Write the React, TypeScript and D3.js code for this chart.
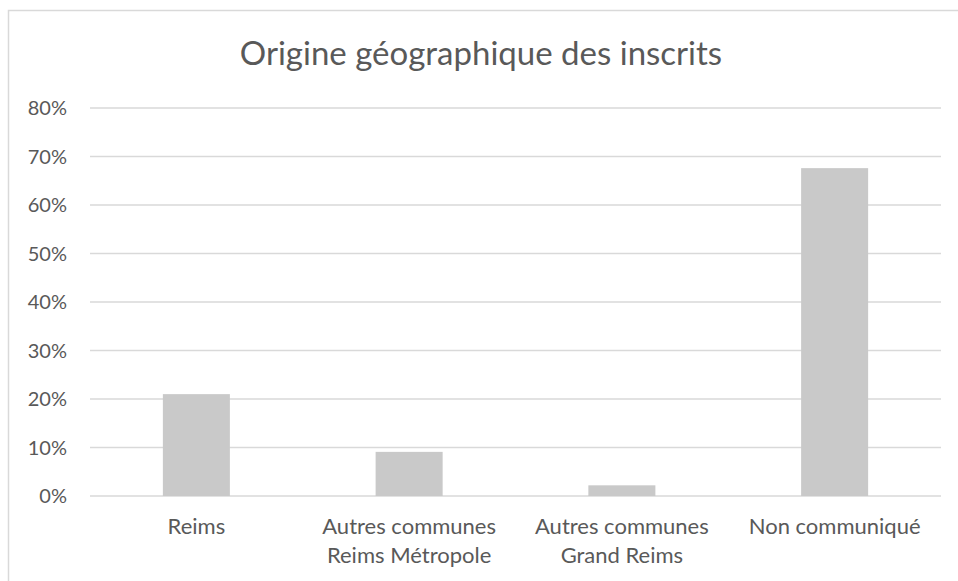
import { useEffect, useRef } from 'react';
import * as d3 from 'd3';

const categories = [
  ['Reims'],
  ['Autres communes', 'Reims Métropole'],
  ['Autres communes', 'Grand Reims'],
  ['Non communiqué'],
];
const values = [0.21, 0.091, 0.022, 0.676];
const ticks = [0, 0.1, 0.2, 0.3, 0.4, 0.5, 0.6, 0.7, 0.8];
const title = 'Origine géographique des inscrits';

const W = 958;
const H = 581;
const FONT = "Lato, 'Open Sans', sans-serif";

function App() {
  const svgRef = useRef<SVGSVGElement | null>(null);

  useEffect(() => {
    document.body.style.margin = '0';
    const svg = d3.select(svgRef.current);
    svg.selectAll('*').remove();

    const margin = { top: 108, right: 17, bottom: 85, left: 90 };
    const innerW = W - margin.left - margin.right;
    const innerH = H - margin.top - margin.bottom;

    // chart frame (right / bottom edges fall outside the picture)
    svg.append('rect')
      .attr('x', 8.5).attr('y', 10.5)
      .attr('width', 960).attr('height', 600)
      .attr('fill', 'white')
      .attr('stroke', '#d9d9d9')
      .attr('stroke-width', 1.5);

    svg.append('text')
      .attr('x', 481).attr('y', 65)
      .attr('text-anchor', 'middle')
      .attr('font-family', FONT)
      .attr('font-size', 33)
      .attr('fill', '#595959')
      .text(title);

    const g = svg.append('g')
      .attr('transform', `translate(${margin.left},${margin.top})`);

    const x = d3.scaleBand<number>()
      .domain(d3.range(categories.length))
      .range([0, innerW])
      .paddingInner(0.685)
      .paddingOuter(0.3425);

    const y = d3.scaleLinear().domain([0, 0.8]).range([innerH, 0]);

    // gridlines
    g.selectAll('.grid')
      .data(ticks)
      .enter()
      .append('line')
      .attr('class', 'grid')
      .attr('x1', 0).attr('x2', innerW)
      .attr('y1', d => y(d)).attr('y2', d => y(d))
      .attr('stroke', '#d9d9d9')
      .attr('stroke-width', 1.5);

    // y labels
    g.selectAll('.ytick')
      .data(ticks)
      .enter()
      .append('text')
      .attr('class', 'ytick')
      .attr('x', -23)
      .attr('y', d => y(d))
      .attr('dy', '0.36em')
      .attr('text-anchor', 'end')
      .attr('font-family', FONT)
      .attr('font-size', 20)
      .attr('fill', '#595959')
      .text(d => d3.format('.0%')(d));

    // bars
    g.selectAll('.bar')
      .data(values)
      .enter()
      .append('rect')
      .attr('class', 'bar')
      .attr('x', (_, i) => x(i)!)
      .attr('width', x.bandwidth())
      .attr('y', d => y(d))
      .attr('height', d => innerH - y(d))
      .attr('fill', '#c9c9c9');

    // category labels
    const labels = g.selectAll('.xlabel')
      .data(categories)
      .enter()
      .append('text')
      .attr('class', 'xlabel')
      .attr('text-anchor', 'middle')
      .attr('font-family', FONT)
      .attr('font-size', 22)
      .attr('fill', '#595959')
      .attr('transform', (_, i) => `translate(${x(i)! + x.bandwidth() / 2},${innerH + 38})`);

    labels.selectAll('tspan')
      .data(d => d)
      .enter()
      .append('tspan')
      .attr('x', 0)
      .attr('y', (_, j) => j * 29)
      .text(d => d);
  }, []);

  return <svg ref={svgRef} width={W} height={H} style={{ display: 'block' }} />;
}

export default App;
